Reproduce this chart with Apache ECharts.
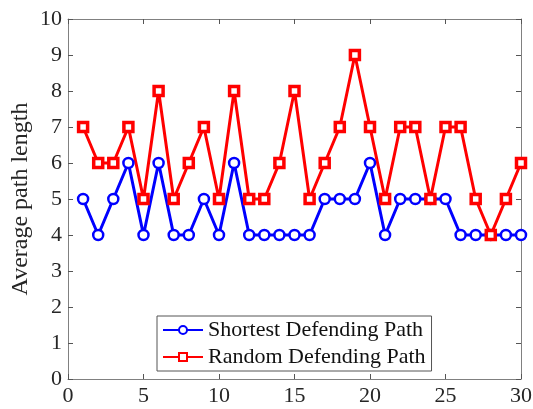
<!DOCTYPE html>
<html><head><meta charset="utf-8">
<script src="https://cdn.jsdelivr.net/npm/echarts@6/dist/echarts.min.js"></script>
<style>html,body{margin:0;padding:0;background:#fff}#c{width:533px;height:409px}</style>
</head><body><div id="c"></div>
<script>
const xValues = [1,2,3,4,5,6,7,8,9,10,11,12,13,14,15,16,17,18,19,20,21,22,23,24,25,26,27,28,29,30];
const shortestPath = [5,4,5,6,4,6,4,4,5,4,6,4,4,4,4,4,5,5,5,6,4,5,5,5,5,4,4,4,4,4];
const randomPath = [7,6,6,7,5,8,5,6,7,5,8,5,5,6,8,5,6,7,9,7,5,7,7,5,7,7,5,4,5,6];
const seriesNames = ['Shortest Defending Path','Random Defending Path'];
const yAxisName = 'Average path length';

const font = 'Liberation Serif';
function axisCommon(){
  return {
    axisLine:{show:true,onZero:false,lineStyle:{color:'#808080',width:1}},
    axisTick:{show:true,inside:true,length:5,lineStyle:{color:'#555'}},
    splitLine:{show:false}
  };
}
const chart = echarts.init(document.getElementById('c'));
chart.setOption({
  animation:false,
  grid:{left:68,right:12,top:19,bottom:30,containLabel:false,outerBoundsMode:'none'},
  xAxis:[
    Object.assign({type:'value',min:0,max:30,interval:5,position:'bottom',
      axisLabel:{fontFamily:font,fontSize:22,color:'#262626',margin:6}},axisCommon()),
    Object.assign({type:'value',min:0,max:30,interval:5,position:'top',
      axisLabel:{show:false}},axisCommon())
  ],
  yAxis:[
    Object.assign({type:'value',min:0,max:10,interval:1,position:'left',
      name:yAxisName,nameLocation:'middle',nameGap:35,nameMoveOverlap:false,
      nameTextStyle:{fontFamily:font,fontSize:24,color:'#262626'},
      axisLabel:{fontFamily:font,fontSize:22,color:'#262626',margin:6}},axisCommon()),
    Object.assign({type:'value',min:0,max:10,interval:1,position:'right',
      axisLabel:{show:false}},axisCommon())
  ],
  legend:{
    orient:'vertical',left:157,top:316,width:274,
    backgroundColor:'#fff',borderColor:'#555',borderWidth:1,
    padding:[1,6,1,5],itemGap:1,itemWidth:40,itemHeight:10,
    textStyle:{fontFamily:font,fontSize:22,lineHeight:26,color:'#111'},
    data:seriesNames
  },
  series:[
    {name:seriesNames[0],type:'line',data:xValues.map((x,i)=>[x,shortestPath[i]]),
     color:'#0000ff',lineStyle:{width:3,color:'#0000ff'},
     symbol:'circle',symbolSize:10,
     itemStyle:{color:'#fff',borderColor:'#0000ff',borderWidth:2.5}},
    {name:seriesNames[1],type:'line',data:xValues.map((x,i)=>[x,randomPath[i]]),
     color:'#ff0000',lineStyle:{width:3,color:'#ff0000'},
     symbol:'rect',symbolSize:9,
     itemStyle:{color:'#fff',borderColor:'#ff0000',borderWidth:3.5}}
  ]
});
</script></body></html>
